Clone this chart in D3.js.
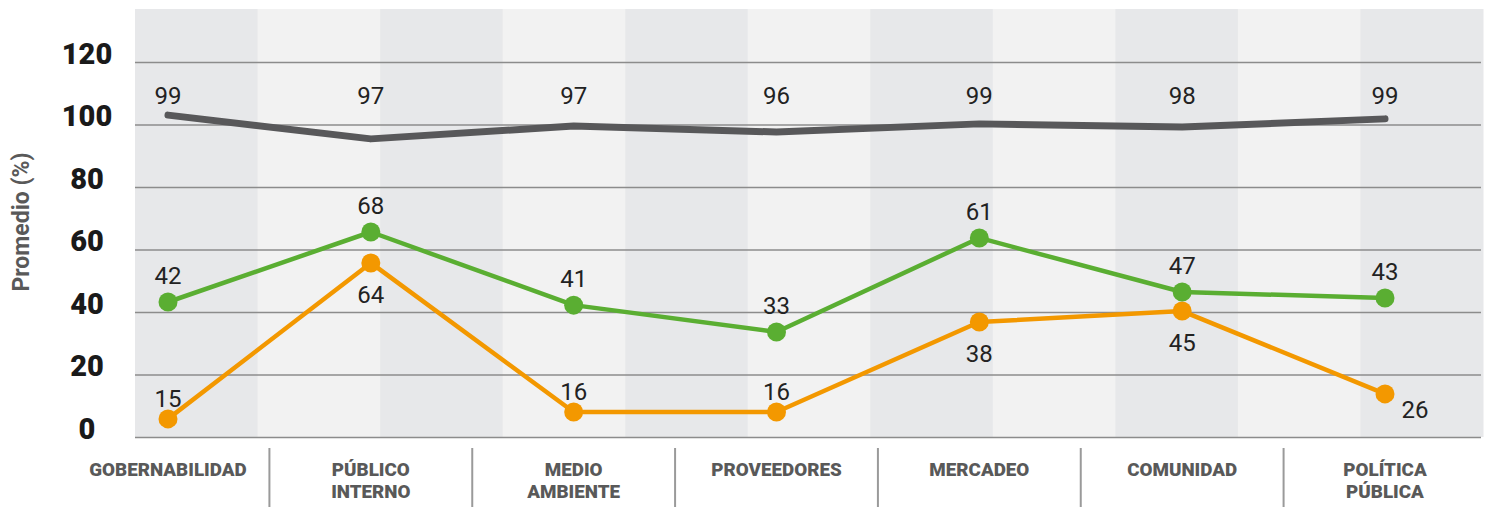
<!DOCTYPE html>
<html>
<head>
<meta charset="utf-8">
<script src="https://cdn.jsdelivr.net/npm/d3@7"></script>
<style>
  body { margin: 0; background: #fff; }
</style>
</head>
<body>
<div id="chart"></div>
<script>
// categories and tick values
var categories = ["GOBERNABILIDAD", "PÚBLICO INTERNO", "MEDIO AMBIENTE", "PROVEEDORES", "MERCADEO", "COMUNIDAD", "POLÍTICA PÚBLICA"];
var yTicks = [0, 20, 40, 60, 80, 100, 120];

// series as drawn in the picture, with the printed labels
var grayValues   = [103, 95.4, 99.5, 97.6, 100.2, 99.2, 101.8];
var grayLabels   = [99, 97, 97, 96, 99, 98, 99];
var greenValues  = [43.2, 65.6, 42.2, 33.6, 63.7, 46.4, 44.5];
var greenLabels  = [42, 68, 41, 33, 61, 47, 43];
var orangeValues = [5.8, 55.7, 8.0, 8.0, 36.8, 40.3, 13.8];
var orangeLabels = [15, 64, 16, 16, 38, 45, 26];

var W = 1487, H = 507;
var plotLeft = 135, plotRight = 1483, plotTop = 9, plotBottom = 437;

var svg = d3.select("#chart")
    .append("svg")
    .attr("width", W)
    .attr("height", H);

// scales
var x = d3.scalePoint()
    .domain(categories)
    .range([168, 1385]);

var y = d3.scaleLinear()
    .domain([0, 120])
    .range([plotBottom, 62]);

// background bands
var bands = d3.scaleBand()
    .domain(d3.range(11))
    .range([plotLeft, plotRight]);

svg.append("g").selectAll("rect")
    .data(bands.domain())
    .enter()
    .append("rect")
    .attr("x", function (d) { return bands(d); })
    .attr("y", plotTop)
    .attr("width", bands.bandwidth() + 0.5)
    .attr("height", plotBottom - plotTop)
    .attr("fill", function (d) { return d % 2 == 0 ? "#e7e8ea" : "#f2f2f2"; });

// gridlines + y tick labels
var yAxis = svg.append("g")
    .attr("transform", "translate(" + plotLeft + ",0)")
    .call(d3.axisLeft(y).tickValues(yTicks).tickSize(-(plotRight - plotLeft - 2)).tickPadding(0));

yAxis.select(".domain").remove();
yAxis.selectAll(".tick line")
    .attr("stroke", "#8c8c8c")
    .attr("stroke-width", 1.5);
yAxis.selectAll(".tick text")
    .attr("x", 87 - plotLeft)
    .attr("dy", "0.05em")
    .attr("text-anchor", "middle")
    .attr("fill", "#1a1a1a")
    .attr("font-family", "Roboto, 'Liberation Sans', sans-serif")
    .attr("font-weight", "900")
    .attr("font-size", 29);

// y axis title
svg.append("text")
    .attr("transform", "translate(29,222) rotate(-90)")
    .attr("text-anchor", "middle")
    .attr("fill", "#595959")
    .attr("font-family", "Roboto, 'Liberation Sans', sans-serif")
    .attr("font-weight", "bold")
    .attr("font-size", 23)
    .text("Promedio (%)");

// category labels + separators
var step = x.step();
svg.append("g").selectAll("line")
    .data(categories.slice(1))
    .enter()
    .append("line")
    .attr("x1", function (d) { return x(d) - step / 2; })
    .attr("x2", function (d) { return x(d) - step / 2; })
    .attr("y1", 448)
    .attr("y2", H)
    .attr("stroke", "#9a9a9a")
    .attr("stroke-width", 2);

// one text per word line so the two rows don't share a box
categories.forEach(function (c) {
    c.split(" ").forEach(function (w, i) {
        svg.append("text")
            .attr("x", x(c))
            .attr("y", 476 + i * 22)
            .attr("text-anchor", "middle")
            .attr("fill", "#595959")
            .attr("font-family", "Roboto, 'Liberation Sans', sans-serif")
            .attr("font-weight", "900")
            .attr("font-size", 18.8)
            .text(w);
    });
});

// lines
var line = d3.line()
    .x(function (d, i) { return x(categories[i]); })
    .y(function (d) { return y(d); });

var series = [
    { values: grayValues,   labels: grayLabels,   colour: "#58585a", width: 7,   dots: false },
    { values: orangeValues, labels: orangeLabels, colour: "#f39800", width: 4.5, dots: true },
    { values: greenValues,  labels: greenLabels,  colour: "#5aae32", width: 4.5, dots: true }
];

series.forEach(function (s) {
    svg.append("path")
        .attr("d", line(s.values))
        .attr("fill", "none")
        .attr("stroke", s.colour)
        .attr("stroke-width", s.width)
        .attr("stroke-linejoin", "round")
        .attr("stroke-linecap", "round");

    if (s.dots) {
        svg.append("g").selectAll("circle")
            .data(s.values)
            .enter()
            .append("circle")
            .attr("cx", function (d, i) { return x(categories[i]); })
            .attr("cy", function (d) { return y(d); })
            .attr("r", 9.5)
            .attr("fill", s.colour);
    }
});

// value labels: gray on a row above, green above the dot, orange below unless near the floor
function labelPos(s, v) {
    if (s === series[0]) return { dx: 0, y: y(106.5) };
    if (s === series[2]) return { dx: 0, y: y(v) - 18 };
    if (v > 20) return { dx: 0, y: y(v) + 40 };
    if (v > 10) return { dx: 30, y: y(v) + 24 };
    return { dx: 0, y: y(v) - 12 };
}

series.forEach(function (s) {
    svg.append("g").selectAll("text")
        .data(s.values)
        .enter()
        .append("text")
        .attr("x", function (d, i) { return x(categories[i]) + labelPos(s, d).dx; })
        .attr("y", function (d) { return labelPos(s, d).y; })
        .attr("text-anchor", "middle")
        .attr("fill", "#222")
        .attr("font-family", "Roboto, 'Liberation Sans', sans-serif")
        .attr("font-size", 24)
        .text(function (d, i) { return s.labels[i]; });
});
</script>
</body>
</html>
